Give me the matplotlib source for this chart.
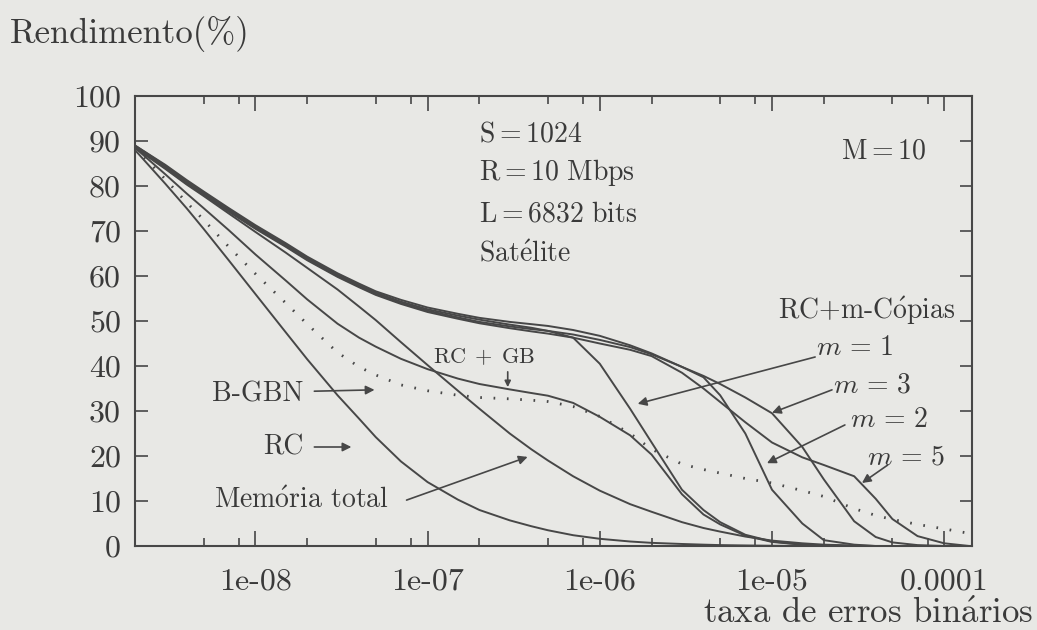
import matplotlib
matplotlib.use("Agg")
import matplotlib.pyplot as plt
from matplotlib.ticker import NullFormatter

plt.rcParams['font.family'] = ['cmr10', 'DejaVu Serif']
plt.rcParams['mathtext.fontset'] = 'cm'
plt.rcParams['axes.unicode_minus'] = False

# bit error rate (x axis, log scale)
ber = [2e-9, 3e-9, 4e-9, 5e-9, 7e-9,
       1e-8, 1.5e-8, 2e-8, 3e-8, 4e-8, 5e-8, 7e-8,
       1e-7, 1.5e-7, 2e-7, 3e-7, 4e-7, 5e-7, 7e-7,
       1e-6, 1.5e-6, 2e-6, 3e-6, 4e-6, 5e-6, 7e-6,
       1e-5, 1.5e-5, 2e-5, 3e-5, 4e-5, 5e-5, 7e-5,
       1e-4, 1.4e-4]

# throughput (%)
rc = [88.0, 80.5, 75.0, 70.5, 63.5,
      56.0, 47.5, 41.5, 33.5, 28.3, 24.2, 18.8,
      14.2, 10.3, 8.0, 5.7, 4.4, 3.5, 2.4,
      1.6, 1.0, 0.7, 0.45, 0.3, 0.2, 0.12,
      0.05, 0.02, 0.0, 0.0, 0.0, 0.0, 0.0,
      0.0, 0.0]
b_gbn = [88.5, 81.5, 76.3, 72.5, 66.5,
         60.5, 54.0, 49.3, 43.0, 39.8, 38.0, 35.8,
         34.5, 33.5, 33.0, 32.7, 32.4, 32.1, 31.0,
         28.8, 25.0, 21.5, 18.2, 17.0, 16.2, 15.0,
         14.0, 12.3, 11.0, 8.3, 6.8, 5.9, 4.8,
         3.8, 2.8]
rc_gb = [88.5, 82.6, 78.3, 75.1, 70.2,
         64.8, 59.0, 54.8, 49.4, 46.3, 44.3, 41.6,
         39.3, 37.2, 36.0, 34.8, 34.0, 33.4, 31.8,
         28.7, 24.6, 20.3, 11.5, 7.0, 4.8, 2.3,
         0.9, 0.3, 0.1, 0.0, 0.0, 0.0, 0.0,
         0.0, 0.0]
mem_total = [88.5, 83.8, 80.3, 77.8, 73.9,
             69.8, 65.2, 61.8, 57.0, 53.2, 50.2, 45.3,
             40.2, 34.5, 30.5, 25.0, 21.5, 19.0, 15.5,
             12.3, 9.3, 7.6, 5.3, 4.0, 3.2, 2.1,
             1.2, 0.6, 0.3, 0.1, 0.0, 0.0, 0.0,
             0.0, 0.0]
m1 = [89.0, 84.5, 81.0, 78.5, 74.8,
      71.0, 67.0, 64.0, 60.3, 58.0, 56.3, 54.3,
      52.6, 51.2, 50.3, 49.2, 48.5, 47.8, 46.3,
      40.5, 30.5, 23.0, 12.5, 8.0, 5.3, 2.5,
      1.0, 0.3, 0.1, 0.0, 0.0, 0.0, 0.0,
      0.0, 0.0]
m2 = [88.8, 84.2, 80.7, 78.2, 74.5,
      70.7, 66.7, 63.7, 60.0, 57.7, 56.0, 54.0,
      52.3, 50.8, 49.8, 48.8, 48.2, 47.8, 47.0,
      45.8, 44.2, 42.6, 39.8, 37.5, 33.5, 25.0,
      12.5, 5.0, 1.3, 0.3, 0.0, 0.0, 0.0,
      0.0, 0.0]
m3 = [89.0, 84.7, 81.3, 78.8, 75.1,
      71.3, 67.3, 64.3, 60.6, 58.3, 56.6, 54.7,
      53.0, 51.6, 50.7, 49.8, 49.3, 48.9, 48.0,
      46.7, 44.6, 42.8, 39.8, 37.8, 36.0, 33.0,
      29.5, 22.0, 14.8, 5.5, 2.0, 0.8, 0.2,
      0.0, 0.0]
m5 = [88.6, 84.0, 80.5, 78.0, 74.3,
      70.5, 66.5, 63.5, 59.8, 57.5, 55.8, 53.8,
      52.0, 50.5, 49.5, 48.4, 47.7, 47.2, 46.3,
      45.0, 43.6, 42.2, 38.5, 35.0, 32.0, 27.5,
      23.0, 19.7, 18.0, 15.5, 10.5, 6.0, 2.2,
      0.6, 0.0]

x_major = [1e-8, 1e-7, 1e-6, 1e-5, 1e-4]
x_major_labels = ['1e-08', '1e-07', '1e-06', '1e-05', '0.0001']
x_minor = [m * 10.0 ** e for e in range(-9, -3) for m in (2, 5, 8)]
y_ticks = list(range(0, 101, 10))

ink = '#474747'
paper = '#e8e8e5'
tcol = '#3a3a3a'

fig = plt.figure(figsize=(10.37, 6.30), dpi=100, facecolor=paper)
ax = fig.add_axes([135 / 1037, 84 / 630, 837 / 1037, 450 / 630])
ax.set_facecolor(paper)

for series in (rc, rc_gb, mem_total, m1, m2, m3, m5):
    ax.plot(ber, series, color=ink, lw=1.4)
ax.plot(ber, b_gbn, color=ink, lw=2.0, dashes=(0.6, 4.2))

ax.set_xscale('log')
ax.set_xlim(2e-9, 1.45e-4)
ax.set_ylim(0, 100)

ax.set_xticks(x_major)
ax.set_xticklabels(x_major_labels)
ax.set_xticks([v for v in x_minor if 2e-9 < v < 1.45e-4], minor=True)
ax.xaxis.set_minor_formatter(NullFormatter())
ax.set_yticks(y_ticks)
ax.set_yticklabels([str(v) for v in y_ticks])

ax.tick_params(which='both', direction='in', top=True, right=True,
               color=ink, labelcolor=tcol, width=1.2, labelsize=23)
ax.tick_params(axis='x', which='major', length=11, pad=16)
ax.tick_params(axis='x', which='minor', length=6)
ax.tick_params(axis='y', which='major', length=9, pad=10)
for s in ax.spines.values():
    s.set_color(ink)
    s.set_linewidth(1.5)

txt = dict(color=tcol, fontsize=20, va='center')
ax.text(2.0e-7, 91.5, r'$\mathrm{S=1024}$', **txt)
ax.text(2.0e-7, 82.9, r'$\mathrm{R=10\ Mbps}$', **txt)
ax.text(2.0e-7, 73.6, r'$\mathrm{L=6832\ bits}$', **txt)
ax.text(2.0e-7, 64.9, r'$\mathrm{Sat\acute{e}lite}$', **txt)
ax.text(7.9e-5, 87.8, r'$\mathrm{M=10}$', ha='right', **txt)
ax.text(1.16e-4, 52.4, r'RC+m-C$\mathrm{\acute{o}}$pias', ha='right', **txt)

arrow = dict(arrowstyle='-|>', color=ink, lw=1.2, mutation_scale=13,
             shrinkA=0, shrinkB=0)

ax.text(3.04e-5, 44.0, r'$m\,=\,1$', ha='center', **txt)
ax.text(3.8e-5, 35.8, r'$m\,=\,3$', ha='center', **txt)
ax.text(4.8e-5, 28.0, r'$m\,=\,2$', ha='center', **txt)
ax.text(6.0e-5, 19.8, r'$m\,=\,5$', ha='center', **txt)
ax.annotate('', xy=(1.66e-6, 31.6), xytext=(1.78e-5, 42.0), arrowprops=arrow)
ax.annotate('', xy=(1.0e-5, 29.6), xytext=(2.23e-5, 34.7), arrowprops=arrow)
ax.annotate('', xy=(9.35e-6, 18.4), xytext=(2.65e-5, 26.9), arrowprops=arrow)
ax.annotate('', xy=(3.33e-5, 14.0), xytext=(4.7e-5, 18.0), arrowprops=arrow)

ax.text(2.12e-7, 42.0, r'$\mathrm{RC}\;+\;\mathrm{GB}$', ha='center', va='center',
        color=tcol, fontsize=16)
ax.annotate('', xy=(2.92e-7, 35.3), xytext=(2.92e-7, 38.7),
            arrowprops=dict(arrow, mutation_scale=9))

ax.text(1.03e-8, 33.8, 'B-GBN', ha='center', **txt)
ax.annotate('', xy=(4.92e-8, 34.7), xytext=(2.2e-8, 34.4), arrowprops=arrow)
ax.text(1.46e-8, 22.0, 'RC', ha='center', **txt)
ax.annotate('', xy=(3.61e-8, 22.0), xytext=(2.2e-8, 22.0), arrowprops=arrow)
ax.text(5.78e-9, 10.2, r'Mem$\mathrm{\acute{o}}$ria total', ha='left', **txt)
ax.annotate('', xy=(3.81e-7, 19.8), xytext=(7.55e-8, 10.2), arrowprops=arrow)

fig.text(10 / 1037, 1 - 34 / 630, 'Rendimento(%)', ha='left', va='center',
         color=tcol, fontsize=25)
fig.text(1033 / 1037, 1 - 614 / 630, r'taxa de erros bin$\mathrm{\acute{a}}$rios',
         ha='right', va='center', color=tcol, fontsize=25)

fig.savefig('out.png', dpi=100, facecolor=paper)
